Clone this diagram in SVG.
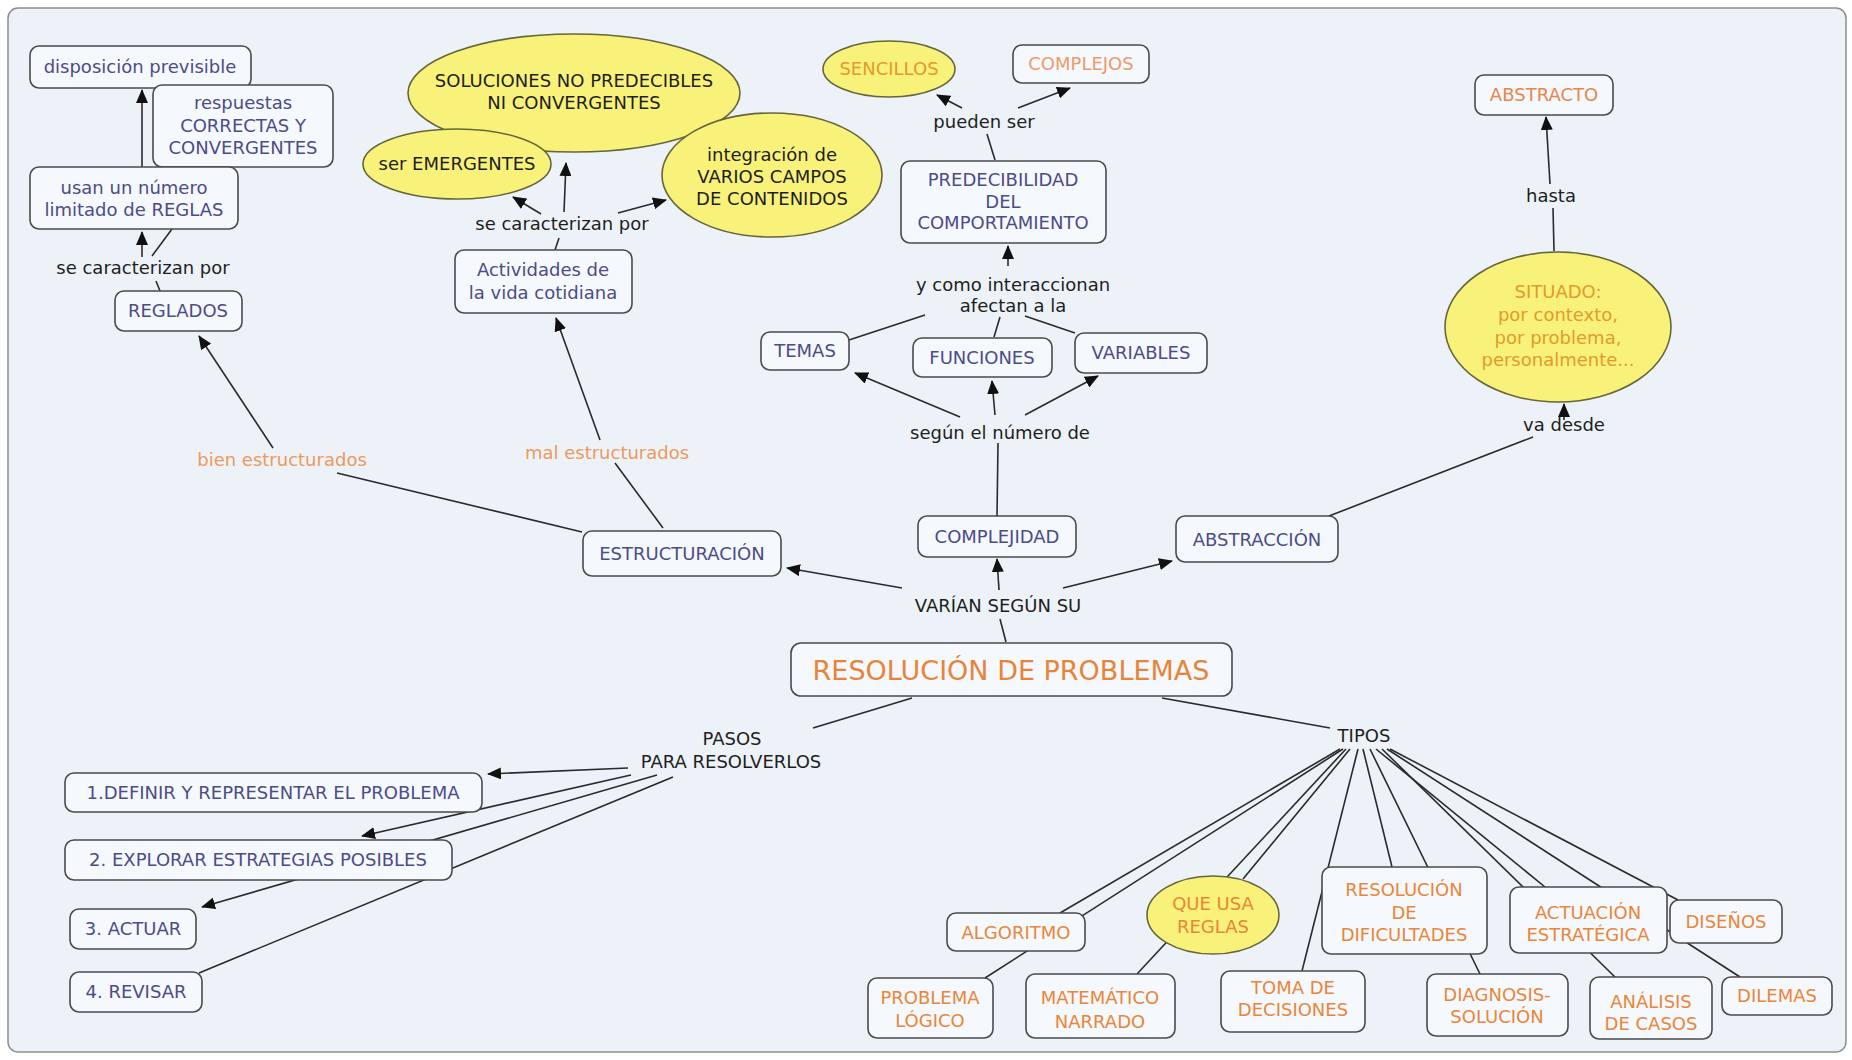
<svg xmlns="http://www.w3.org/2000/svg" width="1852" height="1060" viewBox="0 0 1852 1060">
<defs>
<marker id="ah" markerUnits="userSpaceOnUse" viewBox="0 0 14 12" markerWidth="14" markerHeight="12" refX="13" refY="6" orient="auto">
<path d="M0,0 L14,6 L0,12 z" fill="#111"/>
</marker>
<style>
text{font-family:"DejaVu Sans",Verdana,sans-serif;font-size:18px;text-anchor:middle}
.b{fill:#f5f8fc;stroke:#4a4a4a;stroke-width:1.6}
.y{fill:#f9f27a;stroke:#66663a;stroke-width:1.6}
.c{fill:#4c4c88}
.o{fill:#e8863a}
.k{fill:#1e1e1e}
.lo{fill:#ec9a5c}
.g{fill:#e39a2c}
#connectors line,#connectors path{stroke:#2a2a2a;stroke-width:1.6;fill:none}
.a{marker-end:url(#ah)}
</style>
</defs>
<rect width="1852" height="1060" fill="#ffffff"/>
<rect x="8" y="8" width="1838" height="1044" rx="10" fill="#edf2f8" stroke="#8a8d91" stroke-width="1.5"/>

<g id="connectors">
<line class="a" x1="142" y1="257" x2="142" y2="232"/>
<line x1="152" y1="256" x2="172" y2="229"/>
<line class="a" x1="142" y1="167" x2="142" y2="90"/>
<line x1="156" y1="281" x2="160" y2="291"/>
<line class="a" x1="273" y1="448" x2="199" y2="336"/>
<line x1="337" y1="473" x2="582" y2="532"/>
<line x1="555" y1="250" x2="559" y2="238"/>
<line class="a" x1="541" y1="214" x2="513" y2="197"/>
<line class="a" x1="564" y1="212" x2="566" y2="163"/>
<line class="a" x1="618" y1="213" x2="666" y2="200"/>
<line x1="663" y1="528" x2="615" y2="463"/>
<line class="a" x1="600" y1="440" x2="556" y2="318"/>
<line class="a" x1="962" y1="108" x2="937" y2="95"/>
<line class="a" x1="1018" y1="108" x2="1070" y2="88"/>
<line x1="995" y1="160" x2="987" y2="134"/>
<line class="a" x1="1008" y1="266" x2="1008" y2="246"/>
<line x1="849" y1="340" x2="925" y2="315"/>
<line x1="994" y1="337" x2="1000" y2="317"/>
<line x1="1075" y1="333" x2="1025" y2="316"/>
<line class="a" x1="960" y1="417" x2="855" y2="373"/>
<line class="a" x1="995" y1="415" x2="992" y2="381"/>
<line class="a" x1="1025" y1="415" x2="1098" y2="376"/>
<line x1="997" y1="516" x2="998" y2="443"/>
<line class="a" x1="902" y1="588" x2="787" y2="568"/>
<line class="a" x1="999" y1="590" x2="997" y2="559"/>
<line class="a" x1="1063" y1="588" x2="1172" y2="561"/>
<line x1="1006" y1="642" x2="1000" y2="619"/>
<line x1="1329" y1="516" x2="1533" y2="437"/>
<line class="a" x1="1564" y1="420" x2="1564" y2="404"/>
<line x1="1554" y1="251" x2="1553" y2="208"/>
<line class="a" x1="1550" y1="184" x2="1546" y2="117"/>
<line x1="912" y1="698" x2="813" y2="728"/>
<line class="a" x1="628" y1="768" x2="488" y2="774"/>
<line class="a" x1="631" y1="775" x2="362" y2="836"/>
<line class="a" x1="657" y1="775" x2="202" y2="907"/>
<line x1="673" y1="777" x2="199" y2="973"/>
<line x1="1162" y1="698" x2="1330" y2="728"/>
<line x1="1340" y1="749" x2="1060" y2="913"/>
<line x1="1343" y1="749" x2="985" y2="978"/>
<line x1="1346" y1="749" x2="1137" y2="974"/>
<line x1="1350" y1="749" x2="1243" y2="879"/>
<line x1="1358" y1="749" x2="1302" y2="971"/>
<line x1="1363" y1="749" x2="1392" y2="867"/>
<line x1="1370" y1="749" x2="1480" y2="974"/>
<line x1="1376" y1="749" x2="1545" y2="887"/>
<line x1="1382" y1="749" x2="1615" y2="977"/>
<line x1="1387" y1="749" x2="1740" y2="977"/>
<line x1="1390" y1="749" x2="1678" y2="900"/>
</g>

<g id="n-disposicion"><rect class="b" x="30" y="46" width="221" height="42" rx="9"/><text class="c" x="140" y="73">disposición previsible</text></g>
<g id="n-respuestas"><rect class="b" x="153" y="85" width="180" height="82" rx="9"/><text class="c" x="243" y="109">respuestas</text><text class="c" x="243" y="132">CORRECTAS Y</text><text class="c" x="243" y="154">CONVERGENTES</text></g>
<g id="n-usan"><rect class="b" x="30" y="167" width="208" height="62" rx="9"/><text class="c" x="134" y="194">usan un número</text><text class="c" x="134" y="216">limitado de REGLAS</text></g>
<g id="l-caract1"><text class="k" x="143" y="274">se caracterizan por</text></g>
<g id="n-reglados"><rect class="b" x="115" y="291" width="127" height="40" rx="9"/><text class="c" x="178" y="317">REGLADOS</text></g>

<g id="n-soluciones"><ellipse class="y" cx="574" cy="93" rx="166" ry="59"/><text class="k" x="574" y="87">SOLUCIONES NO PREDECIBLES</text><text class="k" x="574" y="109">NI CONVERGENTES</text></g>
<g id="n-emergentes"><ellipse class="y" cx="457" cy="164" rx="94" ry="35"/><text class="k" x="457" y="170">ser EMERGENTES</text></g>
<g id="n-integracion"><ellipse class="y" cx="772" cy="175" rx="110" ry="62"/><text class="k" x="772" y="161">integración de</text><text class="k" x="772" y="183">VARIOS CAMPOS</text><text class="k" x="772" y="205">DE CONTENIDOS</text></g>
<g id="l-caract2"><text class="k" x="562" y="230">se caracterizan por</text></g>
<g id="n-actividades"><rect class="b" x="455" y="250" width="177" height="63" rx="9"/><text class="c" x="543" y="276">Actividades de</text><text class="c" x="543" y="299">la vida cotidiana</text></g>

<g id="n-sencillos"><ellipse class="y" cx="889" cy="69" rx="66" ry="28"/><text class="g" x="889" y="75">SENCILLOS</text></g>
<g id="n-complejos"><rect class="b" x="1013" y="45" width="136" height="38" rx="9"/><text x="1081" y="70" fill="#ec9a6a">COMPLEJOS</text></g>
<g id="l-pueden"><text class="k" x="984" y="128">pueden ser</text></g>
<g id="n-predecibilidad"><rect class="b" x="901" y="161" width="205" height="82" rx="9"/><text class="c" x="1003" y="186">PREDECIBILIDAD</text><text class="c" x="1003" y="208">DEL</text><text class="c" x="1003" y="229">COMPORTAMIENTO</text></g>
<g id="l-interaccionan"><text class="k" x="1013" y="291">y como interaccionan</text><text class="k" x="1013" y="312">afectan a la</text></g>
<g id="n-temas"><rect class="b" x="761" y="332" width="88" height="38" rx="9"/><text class="c" x="805" y="357">TEMAS</text></g>
<g id="n-funciones"><rect class="b" x="913" y="338" width="139" height="39" rx="9"/><text class="c" x="982" y="364">FUNCIONES</text></g>
<g id="n-variables"><rect class="b" x="1075" y="333" width="132" height="40" rx="9"/><text class="c" x="1141" y="359">VARIABLES</text></g>
<g id="l-segun"><text class="k" x="1000" y="439">según el número de</text></g>
<g id="n-complejidad"><rect class="b" x="918" y="516" width="158" height="41" rx="9"/><text class="c" x="997" y="543">COMPLEJIDAD</text></g>
<g id="n-estructuracion"><rect class="b" x="583" y="531" width="198" height="45" rx="9"/><text class="c" x="682" y="560">ESTRUCTURACIÓN</text></g>
<g id="n-abstraccion"><rect class="b" x="1176" y="516" width="162" height="46" rx="9"/><text class="c" x="1257" y="546">ABSTRACCIÓN</text></g>
<g id="l-varian"><text class="k" x="998" y="612">VARÍAN SEGÚN SU</text></g>
<g id="n-resolucion"><rect class="b" x="791" y="643" width="441" height="53" rx="10"/><text x="1011" y="680" style="font-size:27px" fill="#e8843a">RESOLUCIÓN DE PROBLEMAS</text></g>
<g id="l-bien"><text class="lo" x="282" y="466">bien estructurados</text></g>
<g id="l-mal"><text class="lo" x="607" y="459">mal estructurados</text></g>

<g id="n-abstracto"><rect class="b" x="1475" y="75" width="138" height="40" rx="9"/><text x="1544" y="101" fill="#e8864a">ABSTRACTO</text></g>
<g id="l-hasta"><text class="k" x="1551" y="202">hasta</text></g>
<g id="n-situado"><ellipse class="y" cx="1558" cy="327" rx="113" ry="75"/><text class="g" x="1558" y="298">SITUADO:</text><text class="g" x="1558" y="321">por contexto,</text><text class="g" x="1558" y="344">por problema,</text><text class="g" x="1558" y="366">personalmente...</text></g>
<g id="l-vadesde"><text class="k" x="1564" y="431">va desde</text></g>

<g id="l-pasos"><text class="k" x="732" y="745">PASOS</text><text class="k" x="731" y="768">PARA RESOLVERLOS</text></g>
<g id="n-paso1"><rect class="b" x="65" y="773" width="417" height="39" rx="9"/><text class="c" x="273" y="799">1.DEFINIR Y REPRESENTAR EL PROBLEMA</text></g>
<g id="n-paso2"><rect class="b" x="65" y="840" width="387" height="40" rx="9"/><text class="c" x="258" y="866">2. EXPLORAR ESTRATEGIAS POSIBLES</text></g>
<g id="n-paso3"><rect class="b" x="70" y="909" width="126" height="40" rx="9"/><text class="c" x="133" y="935">3. ACTUAR</text></g>
<g id="n-paso4"><rect class="b" x="70" y="972" width="132" height="40" rx="9"/><text class="c" x="136" y="998">4. REVISAR</text></g>

<g id="l-tipos"><text class="k" x="1364" y="742">TIPOS</text></g>
<g id="n-algoritmo"><rect class="b" x="947" y="913" width="138" height="38" rx="9"/><text class="o" x="1016" y="939">ALGORITMO</text></g>
<g id="n-queusa"><ellipse class="y" cx="1213" cy="915" rx="66" ry="39"/><text class="o" x="1213" y="910">QUE USA</text><text class="o" x="1213" y="933">REGLAS</text></g>
<g id="n-logico"><rect class="b" x="868" y="978" width="125" height="60" rx="9"/><text class="o" x="930" y="1004">PROBLEMA</text><text class="o" x="930" y="1027">LÓGICO</text></g>
<g id="n-matematico"><rect class="b" x="1026" y="974" width="149" height="64" rx="9"/><text class="o" x="1100" y="1004">MATEMÁTICO</text><text class="o" x="1100" y="1028">NARRADO</text></g>
<g id="n-toma"><rect class="b" x="1221" y="971" width="144" height="61" rx="9"/><text class="o" x="1293" y="994">TOMA DE</text><text class="o" x="1293" y="1016">DECISIONES</text></g>
<g id="n-dificultades"><rect class="b" x="1322" y="867" width="165" height="87" rx="9"/><text class="o" x="1404" y="896">RESOLUCIÓN</text><text class="o" x="1404" y="919">DE</text><text class="o" x="1404" y="941">DIFICULTADES</text></g>
<g id="n-diagnosis"><rect class="b" x="1427" y="974" width="141" height="62" rx="9"/><text class="o" x="1497" y="1001">DIAGNOSIS-</text><text class="o" x="1497" y="1023">SOLUCIÓN</text></g>
<g id="n-actuacion"><rect class="b" x="1510" y="887" width="157" height="66" rx="9"/><text class="o" x="1588" y="919">ACTUACIÓN</text><text class="o" x="1588" y="941">ESTRATÉGICA</text></g>
<g id="n-disenos"><rect class="b" x="1670" y="900" width="112" height="43" rx="9"/><text class="o" x="1726" y="928">DISEÑOS</text></g>
<g id="n-analisis"><rect class="b" x="1590" y="977" width="122" height="62" rx="9"/><text class="o" x="1651" y="1008">ANÁLISIS</text><text class="o" x="1651" y="1030">DE CASOS</text></g>
<g id="n-dilemas"><rect class="b" x="1722" y="977" width="110" height="38" rx="9"/><text class="o" x="1777" y="1002">DILEMAS</text></g>
</svg>
